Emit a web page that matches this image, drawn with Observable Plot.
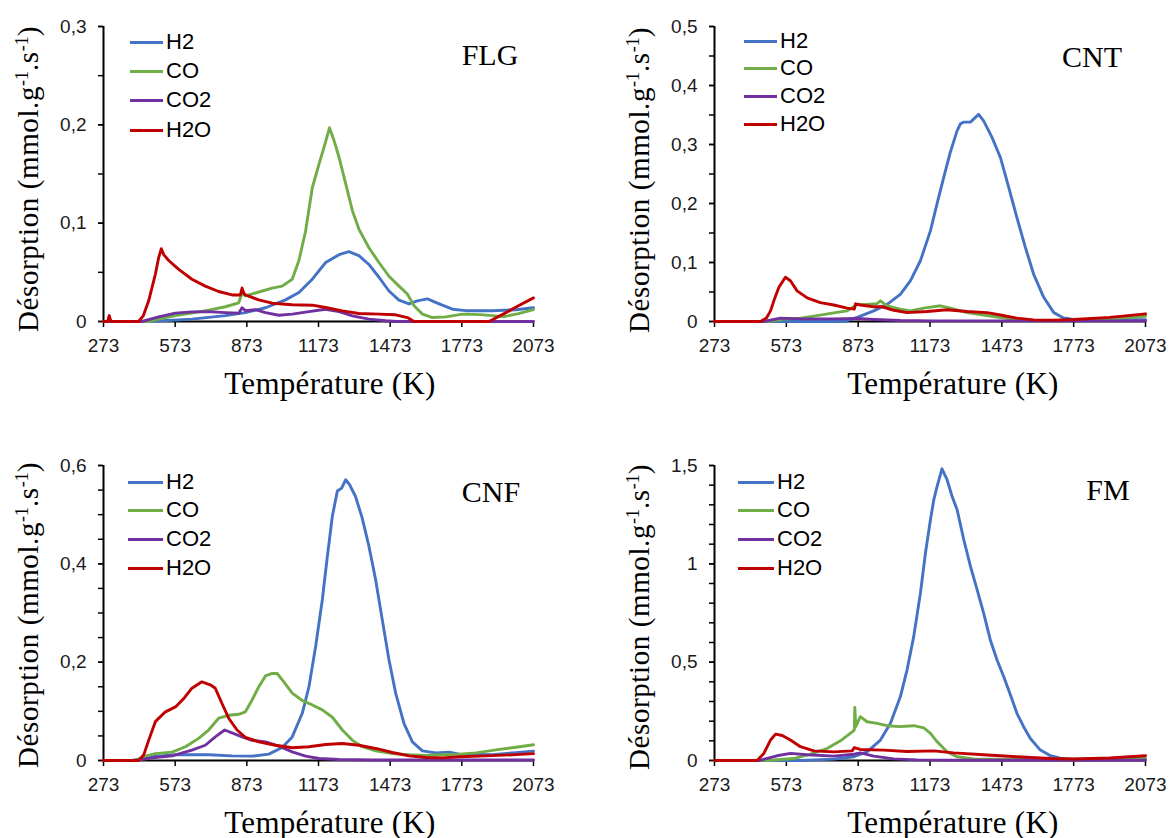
<!DOCTYPE html>
<html><head><meta charset="utf-8">
<script src="https://cdn.jsdelivr.net/npm/d3@7"></script>
<script src="https://cdn.jsdelivr.net/npm/@observablehq/plot@0.6"></script>
<style>
body{margin:0;background:#fff;}
#root{position:relative;width:1171px;height:838px;overflow:hidden;background:#fff;}
.panel{position:absolute;}
.ttl{position:absolute;font-family:"Liberation Serif","Times New Roman",serif;color:#000;white-space:nowrap;transform:translate(-50%,-50%);line-height:1;}
.xt{font-size:31px;letter-spacing:0.3px;}
.yt{font-size:29px;letter-spacing:0.6px;transform:translate(-50%,-50%) rotate(-90deg);}
.yt .sup{font-size:0.62em;position:relative;top:-0.55em;letter-spacing:0;}
.pn{font-size:30px;}
.leg{position:absolute;font-family:"Liberation Sans",Arial,sans-serif;font-size:22px;color:#000;display:flex;align-items:center;transform:translateY(-50%);line-height:1;white-space:nowrap;}
.leg .sw{display:inline-block;height:3px;margin-right:3px;}
</style></head>
<body><div id="root"></div>
<script>
// ---------- data (Température K, Désorption mmol.g-1.s-1) ----------
const gases = ["H2", "CO", "CO2", "H2O"];
const gasColors = ["#4472C4", "#70AD47", "#7030A0", "#C00000"];
const xTicks = [273, 573, 873, 1173, 1473, 1773, 2073];

// FLG
const flgH2 = [[273,0],[434,0],[540,0.001],[643,0.0024],[783,0.006],[867,0.009],[951,0.014],[1035,0.022],[1091,0.0295],[1147,0.043],[1203,0.060],[1259,0.068],[1300,0.071],[1342,0.067],[1384,0.058],[1426,0.045],[1468,0.031],[1510,0.0217],[1552,0.018],[1587,0.021],[1629,0.023],[1678,0.018],[1734,0.0125],[1790,0.011],[1900,0.011],[2000,0.012],[2073,0.014]];
const flgCO = [[273,0],[462,0],[504,0.0024],[574,0.006],[643,0.0085],[713,0.0115],[783,0.015],[839,0.019],[853,0.029],[867,0.026],[923,0.030],[979,0.034],[1021,0.036],[1063,0.043],[1091,0.062],[1119,0.092],[1147,0.136],[1175,0.160],[1196,0.177],[1219,0.197],[1238,0.184],[1259,0.167],[1287,0.140],[1315,0.1125],[1342,0.094],[1384,0.075],[1426,0.060],[1468,0.046],[1510,0.036],[1545,0.028],[1573,0.016],[1608,0.0075],[1650,0.004],[1706,0.0047],[1776,0.0075],[1850,0.007],[1950,0.005],[2010,0.008],[2073,0.012]];
const flgCO2 = [[273,0],[434,0],[504,0.0047],[574,0.0085],[643,0.0098],[713,0.010],[783,0.009],[839,0.0085],[853,0.014],[867,0.011],[909,0.012],[951,0.009],[1007,0.0064],[1063,0.0075],[1133,0.010],[1203,0.0125],[1259,0.010],[1315,0.0058],[1384,0.0024],[1454,0.0007],[1500,0],[2073,0]];
const flgH2O = [[273,0],[290,0],[297,0.006],[304,0],[420,0],[440,0.006],[462,0.021],[490,0.048],[504,0.065],[515,0.074],[525,0.068],[546,0.062],[588,0.053],[643,0.043],[699,0.036],[755,0.0305],[811,0.027],[846,0.027],[853,0.034],[860,0.029],[867,0.027],[923,0.022],[979,0.0186],[1063,0.017],[1147,0.0166],[1203,0.0142],[1273,0.0108],[1342,0.0081],[1426,0.0075],[1496,0.0068],[1545,0.004],[1573,0],[1887,0],[1950,0.008],[2010,0.016],[2073,0.024]];

// CNT
const cntH2 = [[273,0],[813,0],[869,0.007],[938,0.018],[994,0.029],[1049,0.046],[1091,0.069],[1133,0.103],[1175,0.154],[1202,0.199],[1230,0.244],[1258,0.287],[1286,0.323],[1300,0.335],[1314,0.338],[1342,0.338],[1376,0.351],[1397,0.340],[1432,0.312],[1467,0.278],[1502,0.227],[1536,0.176],[1571,0.126],[1606,0.080],[1648,0.041],[1690,0.015],[1731,0.006],[1773,0.0034],[2073,0.003]];
const cntCO = [[273,0],[493,0],[562,0.004],[632,0.0057],[701,0.010],[771,0.0147],[827,0.018],[869,0.029],[910,0.029],[950,0.030],[966,0.035],[994,0.0266],[1049,0.021],[1091,0.018],[1147,0.0226],[1216,0.0266],[1258,0.0226],[1328,0.015],[1397,0.011],[1467,0.0068],[1536,0.0034],[1606,0.0017],[1773,0.002],[1923,0.005],[2073,0.009]];
const cntCO2 = [[273,0],[479,0],[548,0.0057],[632,0.0045],[771,0.0045],[869,0.005],[938,0.0034],[1049,0.0017],[1188,0.001],[2073,0.001]];
const cntH2O = [[273,0],[465,0],[490,0.006],[507,0.018],[525,0.04],[542,0.058],[569,0.075],[590,0.069],[618,0.052],[660,0.040],[715,0.032],[771,0.028],[827,0.0226],[857,0.021],[862,0.030],[882,0.028],[938,0.025],[973,0.025],[1022,0.019],[1077,0.015],[1161,0.017],[1244,0.020],[1328,0.017],[1411,0.015],[1467,0.011],[1536,0.0057],[1606,0.0028],[1690,0.0023],[1773,0.0034],[1923,0.007],[2000,0.010],[2073,0.013]];

// CNF
const cnfH2 = [[273,0],[392,0],[476,0.0075],[574,0.0116],[713,0.0116],[811,0.0095],[895,0.0088],[965,0.013],[1021,0.0265],[1063,0.048],[1105,0.096],[1133,0.150],[1161,0.232],[1189,0.327],[1210,0.415],[1231,0.497],[1252,0.548],[1270,0.554],[1287,0.571],[1303,0.561],[1328,0.537],[1356,0.493],[1384,0.436],[1412,0.368],[1440,0.286],[1468,0.205],[1496,0.137],[1531,0.075],[1566,0.038],[1608,0.0197],[1664,0.0156],[1720,0.017],[1762,0.013],[1900,0.012],[2000,0.016],[2073,0.019]];
const cnfCO = [[273,0],[406,0],[448,0.009],[490,0.014],[560,0.017],[616,0.028],[671,0.045],[713,0.062],[755,0.086],[797,0.092],[839,0.094],[867,0.099],[895,0.123],[923,0.150],[951,0.172],[979,0.177],[1000,0.177],[1028,0.160],[1063,0.137],[1105,0.122],[1147,0.113],[1189,0.103],[1231,0.088],[1273,0.062],[1315,0.041],[1356,0.028],[1412,0.0197],[1482,0.014],[1552,0.0116],[1622,0.0102],[1692,0.0116],[1762,0.013],[1832,0.0156],[1923,0.022],[2000,0.027],[2073,0.032]];
const cnfCO2 = [[273,0],[406,0],[476,0.0054],[560,0.0095],[643,0.021],[699,0.031],[741,0.048],[780,0.062],[811,0.056],[853,0.048],[895,0.041],[951,0.038],[1007,0.029],[1063,0.0177],[1119,0.0088],[1175,0.004],[1259,0.002],[1400,0.001],[2073,0.001]];
const cnfH2O = [[273,0],[420,0],[441,0.011],[462,0.041],[490,0.079],[532,0.099],[574,0.109],[609,0.126],[643,0.147],[685,0.160],[720,0.154],[741,0.147],[769,0.116],[797,0.086],[832,0.062],[867,0.047],[923,0.038],[993,0.031],[1063,0.026],[1133,0.028],[1203,0.0326],[1273,0.0347],[1342,0.031],[1412,0.0245],[1482,0.0163],[1552,0.0095],[1622,0.006],[1692,0.0054],[1762,0.0075],[1900,0.010],[2000,0.012],[2073,0.014]];

// FM
const fmH2 = [[273,0],[632,0],[771,0.007],[855,0.019],[910,0.044],[966,0.104],[1008,0.189],[1049,0.324],[1077,0.460],[1105,0.630],[1133,0.851],[1154,1.055],[1175,1.225],[1189,1.327],[1203,1.395],[1223,1.483],[1244,1.429],[1265,1.344],[1286,1.276],[1314,1.123],[1342,0.987],[1370,0.868],[1397,0.749],[1425,0.613],[1453,0.511],[1481,0.426],[1509,0.333],[1536,0.240],[1564,0.172],[1592,0.112],[1634,0.053],[1676,0.024],[1717,0.012],[1759,0.007],[2073,0.005]];
const fmCO = [[273,0],[493,0],[604,0.010],[674,0.032],[743,0.061],[799,0.100],[848,0.146],[857,0.155],[859,0.270],[863,0.172],[882,0.223],[910,0.197],[952,0.189],[994,0.177],[1049,0.172],[1105,0.177],[1147,0.166],[1175,0.138],[1203,0.095],[1244,0.044],[1286,0.019],[1356,0.008],[1600,0.005],[2073,0.010]];
const fmCO2 = [[273,0],[460,0],[534,0.024],[590,0.036],[660,0.029],[771,0.022],[855,0.032],[882,0.039],[938,0.022],[1021,0.0085],[1119,0.0034],[1300,0.001],[2073,0.001]];
const fmH2O = [[273,0],[451,0],[479,0.036],[507,0.104],[528,0.134],[556,0.127],[590,0.104],[632,0.070],[688,0.049],[771,0.044],[848,0.049],[857,0.066],[882,0.056],[980,0.053],[1077,0.046],[1189,0.049],[1272,0.039],[1397,0.029],[1536,0.019],[1676,0.010],[1773,0.008],[1923,0.013],[2073,0.024]];

// panel definitions
const panelNames = ["FLG", "CNT", "CNF", "FM"];
const panelSeries = [
  [flgH2, flgCO, flgCO2, flgH2O],
  [cntH2, cntCO, cntCO2, cntH2O],
  [cnfH2, cnfCO, cnfCO2, cnfH2O],
  [fmH2, fmCO, fmCO2, fmH2O]
];
const yMax = [0.3, 0.5, 0.6, 1.5];
const yMajorStep = [0.1, 0.1, 0.2, 0.5];
const yMinorStep = [0.05, 0.05, 0.05, 0.1];

// ---------- layout ----------
const layout = [
  {left: 0,   top: 0,   width: 585, mL: 103, mR: 52,
   yt: [28, 179], xt: [330, 383], pn: [490, 55], legX: 130, legLen: 33, legRows: [42, 71, 100, 130]},
  {left: 600, top: 0,   width: 571, mL: 114, mR: 26,
   yt: [639, 180], xt: [953, 383], pn: [1092, 57], legX: 744, legLen: 33, legRows: [41, 68, 96, 124]},
  {left: 0,   top: 439, width: 585, mL: 103, mR: 52,
   yt: [28, 615], xt: [330, 822], pn: [491, 492], legX: 128, legLen: 35, legRows: [482, 510, 539, 568]},
  {left: 600, top: 439, width: 571, mL: 114, mR: 26,
   yt: [639, 617], xt: [953, 822], pn: [1108, 490], legX: 738, legLen: 36, legRows: [482, 510, 539, 568]}
];

const root = document.getElementById("root");
const fr = d => String(+d.toFixed(3)).replace(".", ",");
const range = (step, max) => d3.range(0, Math.round(max / step) + 1).map(i => +(i * step).toFixed(4));

panelNames.forEach((name, p) => {
  const L = layout[p];
  const rows = [];
  panelSeries[p].forEach((s, g) => s.forEach(([T, v]) => rows.push({T, v, gas: gases[g]})));
  const chart = Plot.plot({
    width: L.width, height: 360,
    marginLeft: L.mL, marginRight: L.mR, marginTop: 26, marginBottom: 39,
    style: {fontFamily: "'Liberation Sans', Arial, sans-serif", fontSize: "19px", color: "#000", background: "transparent", overflow: "visible"},
    x: {domain: [273, 2073]},
    y: {domain: [0, yMax[p]]},
    color: {domain: gases, range: gasColors},
    marks: [
      Plot.ruleY([0], {stroke: "#000", strokeWidth: 2}),
      Plot.ruleX([273], {stroke: "#000", strokeWidth: 2}),
      Plot.axisY(range(yMinorStep[p], yMax[p]), {tickSize: 5, tickFormat: () => "", label: null, stroke: "#000", strokeWidth: 1.5}),
      Plot.axisY(range(yMajorStep[p], yMax[p]), {tickSize: 5, tickPadding: 12, tickFormat: fr, label: null, stroke: "#000", strokeWidth: 1.5, fill: "#1a1a1a"}),
      Plot.axisX(xTicks, {tickSize: 6, tickPadding: 11, tickFormat: d => String(d), label: null, stroke: "#000", strokeWidth: 1.5, fill: "#1a1a1a"}),
      Plot.line(rows, {x: "T", y: "v", z: "gas", stroke: "gas", strokeWidth: 2.9, strokeLinejoin: "round", curve: "linear"})
    ]
  });
  chart.classList.add("panel");
  chart.style.left = L.left + "px";
  chart.style.top = L.top + "px";
  root.appendChild(chart);

  // axis titles
  const yt = document.createElement("div");
  yt.className = "ttl yt";
  yt.style.left = L.yt[0] + "px"; yt.style.top = L.yt[1] + "px";
  yt.innerHTML = 'Désorption (mmol.g<span class="sup">-1</span>.s<span class="sup">-1</span>)';
  root.appendChild(yt);

  const xt = document.createElement("div");
  xt.className = "ttl xt";
  xt.style.left = L.xt[0] + "px"; xt.style.top = L.xt[1] + "px";
  xt.textContent = "Température (K)";
  root.appendChild(xt);

  const pn = document.createElement("div");
  pn.className = "ttl pn";
  pn.style.left = L.pn[0] + "px"; pn.style.top = L.pn[1] + "px";
  pn.textContent = name;
  root.appendChild(pn);

  // legend
  gases.forEach((g, i) => {
    const d = document.createElement("div");
    d.className = "leg";
    d.style.left = L.legX + "px"; d.style.top = L.legRows[i] + "px";
    d.innerHTML = `<span class="sw" style="width:${L.legLen}px;background:${gasColors[i]}"></span><span>${g}</span>`;
    root.appendChild(d);
  });
});
</script>
</body></html>
